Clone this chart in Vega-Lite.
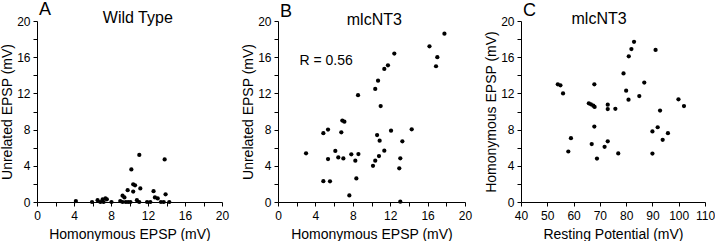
{
  "$schema": "https://vega.github.io/schema/vega-lite/v6.json",
  "padding": {"left": 0, "top": 1, "right": 0, "bottom": 0},
  "spacing": 12,
  "config": {
    "view": {"stroke": null},
    "font": "Liberation Sans",
    "axis": {
      "grid": false,
      "domainColor": "black",
      "tickColor": "black",
      "labelColor": "black",
      "titleColor": "black",
      "labelFontSize": 12,
      "titleFontSize": 14,
      "titleFontWeight": "normal",
      "tickSize": 4,
      "labelFont": "Liberation Sans",
      "titleFont": "Liberation Sans",
      "labelOverlap": false,
      "labelFlush": false
    },
    "axisX": {"labelPadding": 4, "titlePadding": 6},
    "axisY": {"labelPadding": 3, "titlePadding": 2},
    "title": {"fontSize": 18, "fontWeight": "normal", "anchor": "start", "frame": "group", "color": "black", "font": "Liberation Sans", "offset": -9, "dx": 2}
  },
  "datasets": {
    "wt": [
      {"h": 4.2, "u": 0.1}, {"h": 5.95, "u": 0.0}, {"h": 6.55, "u": 0.2}, {"h": 6.85, "u": 0.0},
      {"h": 7.1, "u": 0.3}, {"h": 7.4, "u": 0.4}, {"h": 7.55, "u": 0.3}, {"h": 7.2, "u": 0.0},
      {"h": 8.05, "u": 0.0}, {"h": 9.0, "u": 0.1}, {"h": 9.25, "u": 0.7}, {"h": 9.45, "u": 0.5},
      {"h": 9.25, "u": 0.0}, {"h": 9.6, "u": 0.0}, {"h": 9.85, "u": 0.0}, {"h": 10.1, "u": 0.0},
      {"h": 9.8, "u": 1.3}, {"h": 10.4, "u": 1.15}, {"h": 10.4, "u": 1.95}, {"h": 10.6, "u": 1.85},
      {"h": 10.2, "u": 3.6}, {"h": 11.06, "u": 5.2}, {"h": 11.17, "u": 1.5}, {"h": 10.8, "u": 0.2},
      {"h": 11.05, "u": 0.0}, {"h": 11.9, "u": 0.0}, {"h": 12.25, "u": 0.0}, {"h": 12.6, "u": 1.2},
      {"h": 12.75, "u": 0.5}, {"h": 13.05, "u": 0.4}, {"h": 13.4, "u": 0.0}, {"h": 13.7, "u": 0.0},
      {"h": 13.8, "u": 4.7}, {"h": 13.9, "u": 0.85}, {"h": 14.3, "u": 0.0}
    ],
    "nt3": [
      {"h": 3.0, "u": 5.38}, {"h": 4.85, "u": 7.6}, {"h": 5.35, "u": 8.0}, {"h": 6.88, "u": 9.0},
      {"h": 7.1, "u": 8.87}, {"h": 6.77, "u": 7.7}, {"h": 6.13, "u": 5.64}, {"h": 5.35, "u": 4.75},
      {"h": 6.45, "u": 4.93}, {"h": 6.99, "u": 4.82}, {"h": 4.85, "u": 2.3}, {"h": 5.56, "u": 2.28},
      {"h": 7.84, "u": 5.27}, {"h": 8.27, "u": 4.57}, {"h": 8.6, "u": 5.3}, {"h": 8.38, "u": 2.6},
      {"h": 7.63, "u": 0.73}, {"h": 10.16, "u": 4.0}, {"h": 10.4, "u": 4.57}, {"h": 10.8, "u": 5.08},
      {"h": 11.37, "u": 5.67}, {"h": 10.87, "u": 6.78}, {"h": 10.6, "u": 7.4}, {"h": 10.98, "u": 10.6},
      {"h": 8.56, "u": 11.8}, {"h": 10.4, "u": 12.5}, {"h": 10.7, "u": 13.4}, {"h": 11.37, "u": 14.7},
      {"h": 11.76, "u": 15.1}, {"h": 12.44, "u": 16.4}, {"h": 16.2, "u": 17.2}, {"h": 17.8, "u": 18.6},
      {"h": 17.04, "u": 16.0}, {"h": 16.9, "u": 15.0}, {"h": 12.09, "u": 7.88}, {"h": 14.3, "u": 8.03},
      {"h": 13.3, "u": 6.7}, {"h": 13.08, "u": 4.83}, {"h": 12.97, "u": 3.72}, {"h": 13.08, "u": 0.03}
    ],
    "rest": [
      {"r": 54.0, "h": 13.0}, {"r": 55.0, "h": 12.9}, {"r": 56.0, "h": 12.0}, {"r": 58.0, "h": 5.58},
      {"r": 59.0, "h": 7.05}, {"r": 65.8, "h": 10.9}, {"r": 66.6, "h": 10.8}, {"r": 67.5, "h": 10.64},
      {"r": 67.9, "h": 13.0}, {"r": 68.0, "h": 10.5}, {"r": 67.9, "h": 8.33}, {"r": 66.9, "h": 6.4},
      {"r": 68.9, "h": 4.8}, {"r": 73.0, "h": 10.75}, {"r": 73.0, "h": 10.27}, {"r": 73.0, "h": 6.7},
      {"r": 71.8, "h": 6.1}, {"r": 75.9, "h": 10.3}, {"r": 77.0, "h": 5.36}, {"r": 79.0, "h": 14.2},
      {"r": 80.0, "h": 12.3}, {"r": 80.9, "h": 11.3}, {"r": 81.0, "h": 16.1}, {"r": 82.0, "h": 16.9},
      {"r": 83.0, "h": 17.7}, {"r": 85.0, "h": 11.7}, {"r": 86.9, "h": 13.2}, {"r": 91.2, "h": 16.8},
      {"r": 90.0, "h": 7.8}, {"r": 90.0, "h": 5.35}, {"r": 92.0, "h": 8.26}, {"r": 92.9, "h": 10.1},
      {"r": 93.9, "h": 6.87}, {"r": 95.9, "h": 7.6}, {"r": 99.9, "h": 11.34}, {"r": 102.0, "h": 10.6}
    ],
    "one": [{}]
  },
  "hconcat": [
    {
      "width": 185,
      "height": 181,
      "title": {"text": "A"},
      "layer": [
        {
          "data": {"name": "wt"},
          "mark": {"type": "circle", "size": 18, "color": "black", "opacity": 1},
          "encoding": {
            "x": {"field": "h", "type": "quantitative", "title": "Homonymous EPSP (mV)",
                  "scale": {"domain": [0, 20], "nice": false},
                  "axis": {"values": [0, 2, 4, 6, 8, 10, 12, 14, 16, 18, 20], "tickCount": 11, "labelOverlap": false, "labelExpr": "datum.value % 4 == 0 ? datum.label : ''"}},
            "y": {"field": "u", "type": "quantitative", "title": "Unrelated EPSP (mV)",
                  "scale": {"domain": [0, 20], "nice": false},
                  "axis": {"values": [0, 2, 4, 6, 8, 10, 12, 14, 16, 18, 20], "tickCount": 11, "labelOverlap": false, "labelExpr": "datum.value % 4 == 0 ? datum.label : ''"}}
          }
        },
        {
          "data": {"name": "one"},
          "mark": {"type": "text", "fontSize": 16, "align": "center", "baseline": "middle", "color": "black", "clip": false},
          "encoding": {
            "x": {"datum": 10.9, "type": "quantitative"},
            "y": {"datum": 20.3, "type": "quantitative"},
            "text": {"value": "Wild Type"}
          }
        }
      ]
    },
    {
      "width": 187,
      "height": 181,
      "title": {"text": "B"},
      "layer": [
        {
          "data": {"name": "nt3"},
          "mark": {"type": "circle", "size": 18, "color": "black", "opacity": 1},
          "encoding": {
            "x": {"field": "h", "type": "quantitative", "title": "Homonymous EPSP (mV)",
                  "scale": {"domain": [0, 20], "nice": false},
                  "axis": {"values": [0, 2, 4, 6, 8, 10, 12, 14, 16, 18, 20], "tickCount": 11, "labelOverlap": false, "labelExpr": "datum.value % 4 == 0 ? datum.label : ''"}},
            "y": {"field": "u", "type": "quantitative", "title": "Unrelated EPSP (mV)",
                  "scale": {"domain": [0, 20], "nice": false},
                  "axis": {"values": [0, 2, 4, 6, 8, 10, 12, 14, 16, 18, 20], "tickCount": 11, "labelOverlap": false, "labelExpr": "datum.value % 4 == 0 ? datum.label : ''"}}
          }
        },
        {
          "data": {"name": "one"},
          "mark": {"type": "text", "fontSize": 16, "align": "center", "baseline": "middle", "color": "black", "clip": false},
          "encoding": {
            "x": {"datum": 10.3, "type": "quantitative"},
            "y": {"datum": 20.1, "type": "quantitative"},
            "text": {"value": "mlcNT3"}
          }
        },
        {
          "data": {"name": "one"},
          "mark": {"type": "text", "fontSize": 14, "align": "left", "baseline": "middle", "color": "black"},
          "encoding": {
            "x": {"datum": 2.3, "type": "quantitative"},
            "y": {"datum": 15.6, "type": "quantitative"},
            "text": {"value": "R = 0.56"}
          }
        }
      ]
    },
    {
      "width": 184,
      "height": 181,
      "title": {"text": "C"},
      "layer": [
        {
          "data": {"name": "rest"},
          "mark": {"type": "circle", "size": 18, "color": "black", "opacity": 1},
          "encoding": {
            "x": {"field": "r", "type": "quantitative", "title": "Resting Potential (mV)",
                  "scale": {"domain": [40, 110], "nice": false},
                  "axis": {"values": [40, 50, 60, 70, 80, 90, 100, 110], "tickCount": 8, "labelOverlap": false}},
            "y": {"field": "h", "type": "quantitative", "title": "Homonymous EPSP (mV)",
                  "scale": {"domain": [0, 20], "nice": false},
                  "axis": {"values": [0, 2, 4, 6, 8, 10, 12, 14, 16, 18, 20], "tickCount": 11, "labelOverlap": false, "labelExpr": "datum.value % 4 == 0 ? datum.label : ''"}}
          }
        },
        {
          "data": {"name": "one"},
          "mark": {"type": "text", "fontSize": 16, "align": "center", "baseline": "middle", "color": "black", "clip": false},
          "encoding": {
            "x": {"datum": 69.7, "type": "quantitative"},
            "y": {"datum": 20.2, "type": "quantitative"},
            "text": {"value": "mlcNT3"}
          }
        }
      ]
    }
  ]
}
